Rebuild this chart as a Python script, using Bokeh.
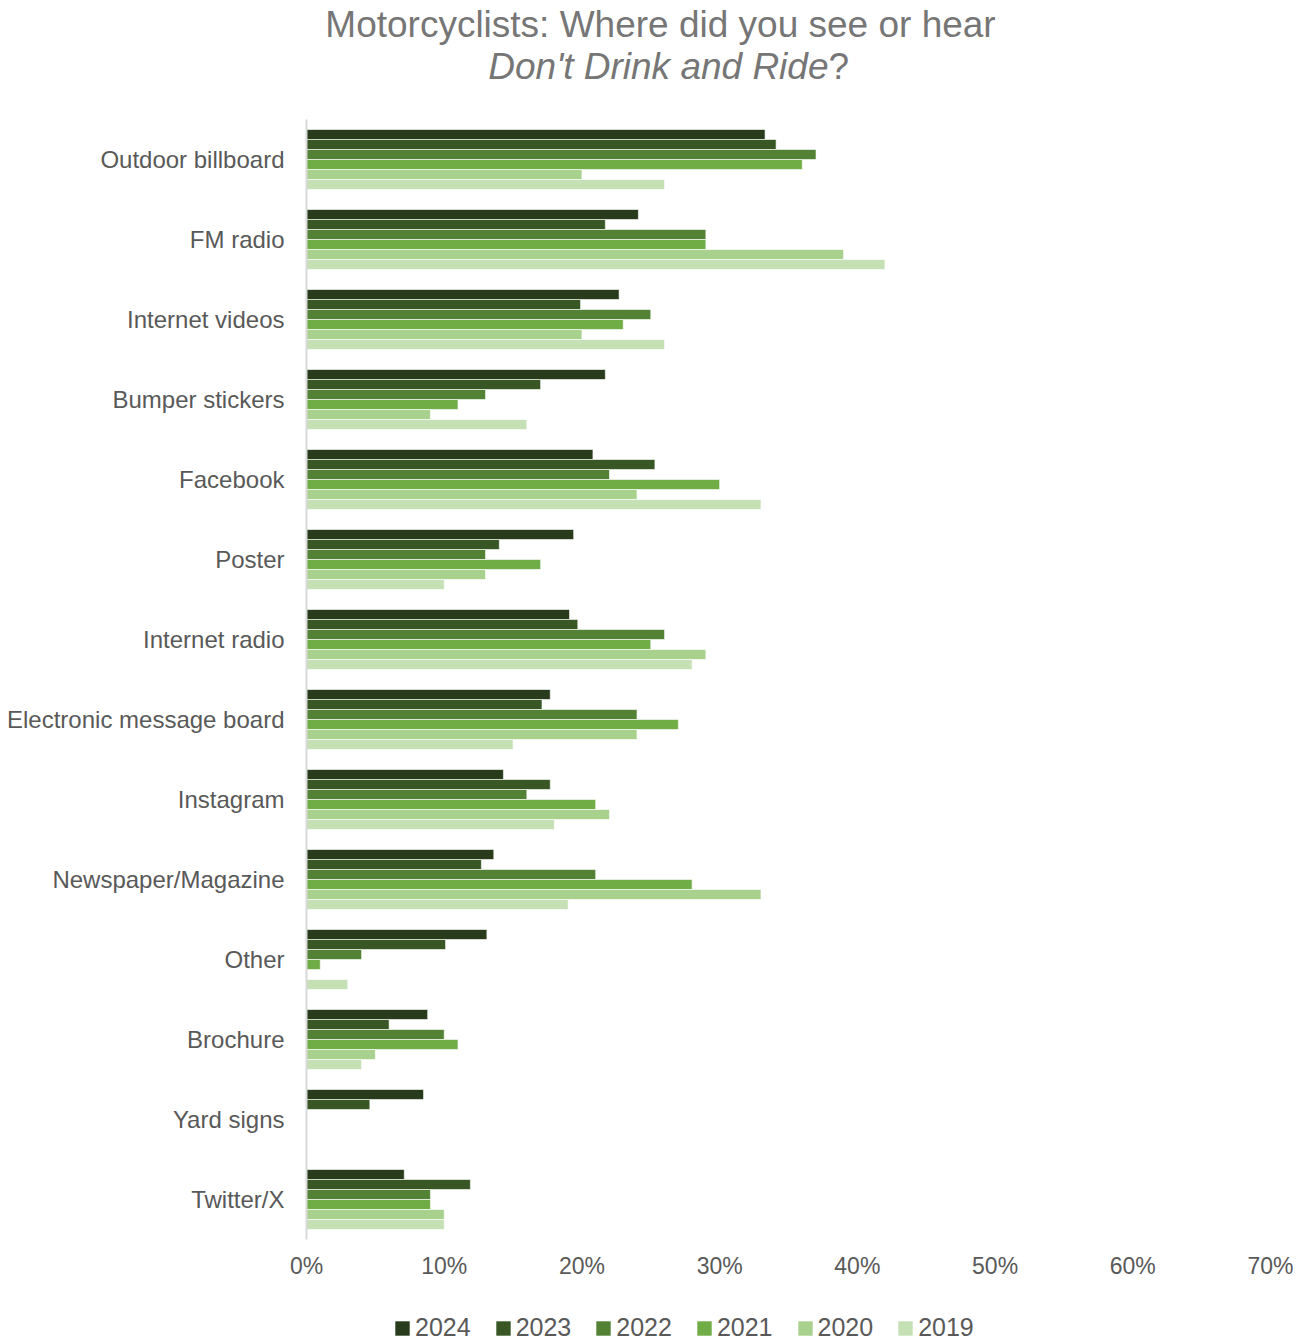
from bokeh.plotting import figure
from bokeh.models import (ColumnDataSource, FactorRange, Range1d, FixedTicker,
                          PrintfTickFormatter, Legend, LegendItem, Label)
from bokeh.layouts import column
from bokeh.transform import dodge
from bokeh.embed import file_html
from bokeh.resources import INLINE

nan = float("nan")

categories = ["Outdoor billboard", "FM radio", "Internet videos", "Bumper stickers",
              "Facebook", "Poster", "Internet radio", "Electronic message board",
              "Instagram", "Newspaper/Magazine", "Other", "Brochure", "Yard signs",
              "Twitter/X"]
years = ["2024", "2023", "2022", "2021", "2020", "2019"]

v2024 = [33.3, 24.1, 22.7, 21.7, 20.8, 19.4, 19.1, 17.7, 14.3, 13.6, 13.1, 8.8, 8.5, 7.1]
v2023 = [34.1, 21.7, 19.9, 17.0, 25.3, 14.0, 19.7, 17.1, 17.7, 12.7, 10.1, 6.0, 4.6, 11.9]
v2022 = [37.0, 29.0, 25.0, 13.0, 22.0, 13.0, 26.0, 24.0, 16.0, 21.0, 4.0, 10.0, nan, 9.0]
v2021 = [36.0, 29.0, 23.0, 11.0, 30.0, 17.0, 25.0, 27.0, 21.0, 28.0, 1.0, 11.0, nan, 9.0]
v2020 = [20.0, 39.0, 20.0, 9.0, 24.0, 13.0, 29.0, 24.0, 22.0, 33.0, nan, 5.0, nan, 10.0]
v2019 = [26.0, 42.0, 26.0, 16.0, 33.0, 10.0, 28.0, 15.0, 18.0, 19.0, 3.0, 4.0, nan, 10.0]

x_ticks = [0, 10, 20, 30, 40, 50, 60, 70]

title_line1 = "Motorcyclists: Where did you see or hear"
title_line2_italic = "Don't Drink and Ride"
title_line2_end = "?"

colors = ["#283C1C", "#385724", "#548235", "#70AD47", "#A9D18E", "#C5E0B4"]
offsets = [0.3125, 0.1875, 0.0625, -0.0625, -0.1875, -0.3125]

source = ColumnDataSource(dict(cat=categories, y2024=v2024, y2023=v2023, y2022=v2022,
                               y2021=v2021, y2020=v2020, y2019=v2019))

FONT = "Liberation Sans"
GRAY = "#595959"
TITLE_COLOR = "#767676"
W = 1294

# ---------- title (frame is aligned with the main chart's frame in the column) ----------
t = figure(width=W, height=110, x_range=Range1d(0, 1), y_range=Range1d(0, 1),
           x_axis_type=None, y_axis_type=None, min_border=0,
           output_backend="svg", toolbar_location=None)
t.outline_line_color = None
t.add_layout(Label(x=354, y=86, x_units="screen", y_units="screen",
                   text=title_line1, text_align="center", text_baseline="middle",
                   text_font=FONT, text_font_size="37px", text_color=TITLE_COLOR))
t.add_layout(Label(x=522, y=44, x_units="screen", y_units="screen",
                   text=title_line2_italic, text_font_style="italic",
                   text_align="right", text_baseline="middle",
                   text_font=FONT, text_font_size="37px", text_color=TITLE_COLOR))
t.add_layout(Label(x=522, y=44, x_units="screen", y_units="screen",
                   text=title_line2_end, text_align="left", text_baseline="middle",
                   text_font=FONT, text_font_size="37px", text_color=TITLE_COLOR))

# ---------- main chart ----------
p = figure(frame_width=964, frame_height=1120,
           min_border_left=306, min_border_top=9, min_border_right=24, min_border_bottom=50,
           y_range=FactorRange(factors=categories[::-1], range_padding=0),
           x_range=Range1d(0, 70),
           output_backend="svg", toolbar_location=None)
p.outline_line_color = None
p.xgrid.visible = False
p.ygrid.visible = False

for yr, col, off in zip(years, colors, offsets):
    p.hbar(y=dodge("cat", off, range=p.y_range), right="y" + yr, left=0,
           height=0.125, source=source, fill_color=col,
           line_color="white", line_width=0.6)

p.yaxis.axis_line_color = "#D9D9D9"
p.yaxis.axis_line_width = 2
p.yaxis.major_tick_line_color = None
p.yaxis.minor_tick_line_color = None
p.yaxis.major_label_text_font = FONT
p.yaxis.major_label_text_font_size = "24px"
p.yaxis.major_label_text_color = GRAY
p.yaxis.major_label_standoff = 16

p.xaxis.ticker = FixedTicker(ticks=x_ticks)
p.xaxis.formatter = PrintfTickFormatter(format="%d%%")
p.xaxis.axis_line_color = None
p.xaxis.major_tick_line_color = None
p.xaxis.minor_tick_line_color = None
p.xaxis.major_label_text_font = FONT
p.xaxis.major_label_text_font_size = "23px"
p.xaxis.major_label_text_color = GRAY
p.xaxis.major_label_standoff = 7

# ---------- legend ----------
lg = figure(width=W, height=54, x_range=Range1d(0, 1), y_range=Range1d(0, 1),
            x_axis_type=None, y_axis_type=None, min_border=0,
            output_backend="svg", toolbar_location=None)
lg.outline_line_color = None
items = []
for yr, col in zip(years, colors):
    r = lg.hbar(y=[nan], right=[nan], left=0, height=0.1, fill_color=col, line_color=None)
    items.append(LegendItem(label=yr, renderers=[r]))
legend = Legend(items=items, orientation="horizontal", location=(87, 1),
                glyph_width=18, glyph_height=18, label_standoff=4, spacing=23,
                padding=0, margin=0, border_line_color=None,
                background_fill_alpha=0,
                label_text_font=FONT, label_text_font_size="25px",
                label_text_color=GRAY)
lg.add_layout(legend)

layout = column(t, p, lg, spacing=0)
open("out.html", "w").write(file_html(layout, INLINE))
